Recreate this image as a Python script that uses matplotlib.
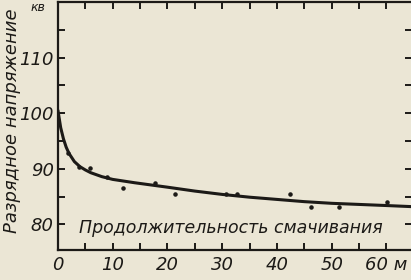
import matplotlib.pyplot as plt
from matplotlib.ticker import MultipleLocator

# curve (minutes, kV)
curve_t = [0, 0.5, 1, 1.5, 2, 3, 4, 5, 6, 8, 10, 14, 20, 25, 30, 35, 40, 45, 50, 55, 60, 64.7]
curve_u = [100.5, 97.4, 95.4, 93.9, 92.8, 91.3, 90.4, 89.8, 89.3, 88.6, 88.1, 87.5, 86.7, 86.0, 85.4, 84.9, 84.5, 84.1, 83.8, 83.6, 83.4, 83.2]

# measured points
pts_t = [1.9, 3.8, 5.9, 8.9, 11.9, 17.8, 21.4, 30.6, 32.7, 42.3, 46.3, 51.3, 60.1]
pts_u = [92.9, 90.4, 90.2, 88.5, 86.6, 87.4, 85.5, 85.5, 85.5, 85.5, 83.1, 83.1, 84.0]

x_ticks = [0, 10, 20, 30, 40, 50, 60]
x_labels = ["0", "10", "20", "30", "40", "50", "60 м"]
y_ticks = [80, 90, 100, 110]
y_labels = ["80", "90", "100", "110"]

paper = "#ebe6d5"
ink = "#1c1a17"

plt.rcParams["font.family"] = ["DejaVu Sans"]

fig = plt.figure(figsize=(4.11, 2.8), dpi=100, facecolor=paper)
ax = fig.add_axes([0.141, 0.107, 0.862, 0.886])
ax.set_facecolor(paper)

ax.plot(curve_t, curve_u, color=ink, linewidth=2.2, solid_capstyle="round")
ax.scatter(pts_t, pts_u, s=5, color=ink, zorder=3)

ax.set_xlim(0, 64.7)
ax.set_ylim(75.4, 120)

for s in ax.spines.values():
    s.set_linewidth(1.6)
    s.set_color(ink)

ax.xaxis.set_minor_locator(MultipleLocator(5))
ax.yaxis.set_minor_locator(MultipleLocator(5))
ax.set_xticks(x_ticks)
ax.set_xticklabels(x_labels, fontstyle="italic", fontsize=13)
ax.set_yticks(y_ticks)
ax.set_yticklabels(y_labels, fontstyle="italic", fontsize=13)
ax.tick_params(which="both", direction="in", length=5, width=1.4, color=ink,
               top=True, right=True, labelcolor=ink)
ax.tick_params(axis="x", pad=4)
ax.tick_params(axis="y", pad=3)

ax.text(3.8, 79.3, "Продолжительность смачивания", fontsize=12.5, fontstyle="italic",
        color=ink, ha="left", va="center")
fig.text(0.03, 0.57, "Разрядное напряжение", rotation=90, fontsize=13,
         fontstyle="italic", color=ink, ha="center", va="center")
fig.text(0.075, 0.997, "кв", fontsize=9, fontstyle="italic", color=ink,
         ha="left", va="top")

fig.savefig("out.png", dpi=100, facecolor=paper)
